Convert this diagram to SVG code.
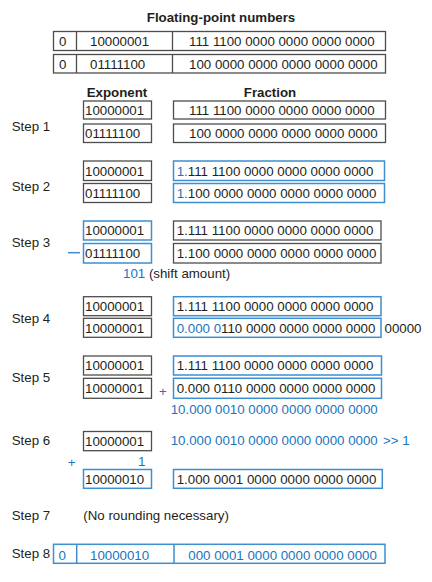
<svg xmlns="http://www.w3.org/2000/svg" width="432" height="582" viewBox="0 0 432 582">
<style>
text{font-family:"Liberation Sans",Arial,sans-serif;font-size:13.3px;fill:#231f20}
.b{fill:#1a75bc}
.h{font-weight:bold}
.m{text-anchor:middle}
.g{fill:#fff;stroke:#4d4d4d;stroke-width:1.3}
.bl{fill:#fff;stroke:#3d8fd1;stroke-width:1.5}
.gl{stroke:#4d4d4d;stroke-width:1.3}
.blu{stroke:#3d8fd1;stroke-width:1.5}
</style>
<rect width="432" height="582" fill="#fff"/>
<g id="title"><text class="h m" x="221" y="22">Floating-point numbers</text></g>
<g id="fp-a">
<rect class="g" x="53.5" y="31.5" width="332" height="19"/>
<line class="gl" x1="76.5" y1="31.5" x2="76.5" y2="50.5"/><line class="gl" x1="172.5" y1="31.5" x2="172.5" y2="50.5"/>
<text x="59" y="46">0</text><text x="90" y="46">10000001</text><text x="189" y="46">111 1100 0000 0000 0000 0000</text>
</g>
<g id="fp-b">
<rect class="g" x="53.5" y="54.5" width="332" height="18.5"/>
<line class="gl" x1="76.5" y1="54.5" x2="76.5" y2="73"/><line class="gl" x1="172.5" y1="54.5" x2="172.5" y2="73"/>
<text x="59" y="69">0</text><text x="90" y="69">01111100</text><text x="189" y="69">100 0000 0000 0000 0000 0000</text>
</g>
<g id="headers"><text class="h m" x="117" y="97">Exponent</text><text class="h m" x="270" y="97">Fraction</text></g>
<g id="step1">
<text x="11.7" y="131">Step 1</text>
<rect class="g" x="83.5" y="101" width="68" height="18"/><text x="85" y="115">10000001</text>
<rect class="g" x="173.5" y="101" width="212" height="18"/><text x="189" y="115">111 1100 0000 0000 0000 0000</text>
<rect class="g" x="83.5" y="124" width="68" height="18.5"/><text x="85" y="138">01111100</text>
<rect class="g" x="173.5" y="124" width="212" height="18.5"/><text x="189" y="138">100 0000 0000 0000 0000 0000</text>
</g>
<g id="step2">
<text x="11.7" y="190.5">Step 2</text>
<rect class="g" x="83.5" y="161" width="68" height="19.5"/><text x="85" y="175.5">10000001</text>
<rect class="bl" x="173.5" y="161" width="211" height="19.5"/><text x="176.7" y="175.5"><tspan class="b">1.</tspan>111 1100 0000 0000 0000 0000</text>
<rect class="g" x="83.5" y="183.5" width="68" height="19"/><text x="85" y="198">01111100</text>
<rect class="bl" x="173.5" y="183.5" width="211" height="19"/><text x="176.7" y="198"><tspan class="b">1.</tspan>100 0000 0000 0000 0000 0000</text>
</g>
<g id="step3">
<text x="11.7" y="247">Step 3</text>
<rect class="bl" x="83.5" y="221" width="68" height="19"/><text x="85" y="235">10000001</text>
<rect class="g" x="173.5" y="221" width="207.5" height="19"/><text x="176.7" y="235">1.111 1100 0000 0000 0000 0000</text>
<rect class="bl" x="83.5" y="243.5" width="68" height="19.5"/><text x="85" y="258">01111100</text>
<rect class="g" x="173.5" y="243.5" width="207.5" height="19.5"/><text x="176.7" y="258">1.100 0000 0000 0000 0000 0000</text>
<line class="blu" x1="68" y1="252.7" x2="80" y2="252.7" stroke-width="2"/>
<text x="123" y="278"><tspan class="b">101</tspan> (shift amount)</text>
</g>
<g id="step4">
<text x="11.7" y="322.5">Step 4</text>
<rect class="g" x="83.5" y="296.7" width="68" height="19"/><text x="85" y="311">10000001</text>
<rect class="bl" x="173.5" y="296.7" width="207.5" height="19"/><text x="176.7" y="311">1.111 1100 0000 0000 0000 0000</text>
<rect class="g" x="83.5" y="318.3" width="68" height="19"/><text x="85" y="333">10000001</text>
<rect class="bl" x="173.5" y="318.3" width="207.5" height="19"/><text x="176.7" y="333"><tspan class="b">0.000 0</tspan>110 0000 0000 0000 0000</text>
<text x="384.5" y="333">00000</text>
</g>
<g id="step5">
<text x="11.7" y="381.7">Step 5</text>
<rect class="g" x="83.5" y="356" width="68" height="19"/><text x="85" y="370">10000001</text>
<rect class="bl" x="173.5" y="356" width="208" height="19"/><text x="176.7" y="370">1.111 1100 0000 0000 0000 0000</text>
<rect class="g" x="83.5" y="378.3" width="68" height="20"/><text x="85" y="393">10000001</text>
<rect class="bl" x="173.5" y="378.3" width="208" height="20"/><text x="176.7" y="393">0.000 0110 0000 0000 0000 0000</text>
<text class="b m" x="163" y="396">+</text>
<text class="b" x="170.7" y="414">10.000 0010 0000 0000 0000 0000</text>
</g>
<g id="step6">
<text x="11.7" y="445">Step 6</text>
<rect class="g" x="83.5" y="431.5" width="68" height="19.2"/><text x="85" y="445.5">10000001</text>
<text class="b" x="170.7" y="445">10.000 0010 0000 0000 0000 0000</text>
<text class="b" x="383" y="445">&gt;&gt; 1</text>
<text class="b m" x="71.7" y="467">+</text>
<text class="b" x="138" y="466">1</text>
<rect class="bl" x="83.5" y="469.5" width="68" height="18.8"/><text x="85" y="483.5">10000010</text>
<rect class="bl" x="173.5" y="469.5" width="208.8" height="18.8"/><text x="176.7" y="483.5">1.000 0001 0000 0000 0000 0000</text>
</g>
<g id="step7">
<text x="11.7" y="520">Step 7</text>
<text x="83.3" y="520">(No rounding necessary)</text>
</g>
<g id="step8">
<text x="11.7" y="558.3">Step 8</text>
<rect class="bl" x="53.5" y="544.3" width="331.5" height="19"/>
<line class="blu" x1="76.7" y1="544.3" x2="76.7" y2="563.3"/><line class="blu" x1="174" y1="544.3" x2="174" y2="563.3"/>
<text class="b" x="58.5" y="559.5">0</text><text class="b" x="90" y="559.5">10000010</text><text class="b" x="188.3" y="559.5">000 0001 0000 0000 0000 0000</text>
</g>
</svg>
